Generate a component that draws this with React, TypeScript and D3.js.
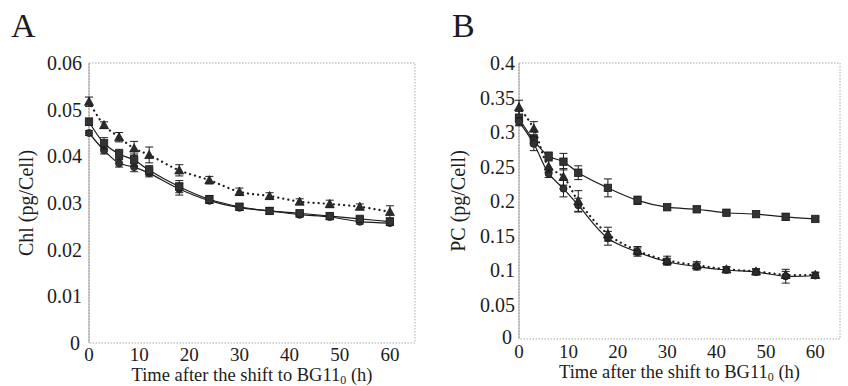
import React from "react";
import * as d3 from "d3";

const times = [0, 3, 6, 9, 12, 18, 24, 30, 36, 42, 48, 54, 60];

// Panel A: Chl (pg/Cell)
const chlTriangle = [0.0517, 0.0467, 0.0441, 0.0417, 0.0403, 0.037, 0.0349, 0.0324, 0.0315, 0.0303, 0.0298, 0.0292, 0.0281];
const chlTriangleErr = [0.001, 0.0007, 0.001, 0.0015, 0.0017, 0.0012, 0.0008, 0.0008, 0.0007, 0.0006, 0.0008, 0.0006, 0.0013];
const chlSquare = [0.0474, 0.0428, 0.0405, 0.0392, 0.037, 0.0335, 0.0308, 0.0292, 0.0283, 0.0278, 0.0272, 0.0266, 0.026];
const chlSquareErr = [0.0008, 0.0012, 0.001, 0.0013, 0.001, 0.0013, 0.0008, 0.0007, 0.0007, 0.0005, 0.0007, 0.0005, 0.0007];
const chlCircle = [0.045, 0.0413, 0.0385, 0.0377, 0.0364, 0.033, 0.0305, 0.029, 0.0283, 0.0275, 0.027, 0.026, 0.0257];
const chlCircleErr = [0.0005, 0.0008, 0.0008, 0.001, 0.0008, 0.0013, 0.0006, 0.0006, 0.0006, 0.0005, 0.0005, 0.0005, 0.0005];

// Panel B: PC (pg/Cell)
const pcSquare = [0.32, 0.288, 0.265, 0.257, 0.241, 0.219, 0.201, 0.191, 0.188, 0.183, 0.181, 0.177, 0.174];
const pcSquareErr = [0.01, 0.008, 0.006, 0.012, 0.01, 0.013, 0.006, 0.004, 0.004, 0.004, 0.004, 0.005, 0.003];
const pcCircle = [0.315, 0.283, 0.24, 0.218, 0.194, 0.146, 0.126, 0.112, 0.105, 0.1, 0.097, 0.091, 0.092];
const pcCircleErr = [0.006, 0.01, 0.006, 0.012, 0.01, 0.01, 0.006, 0.005, 0.005, 0.004, 0.004, 0.01, 0.004];
const pcTriangle = [0.336, 0.305, 0.25, 0.235, 0.2, 0.152, 0.128, 0.114, 0.107, 0.101, 0.098, 0.093, 0.093];
const pcTriangleErr = [0.01, 0.01, 0.008, 0.012, 0.015, 0.01, 0.006, 0.006, 0.005, 0.004, 0.004, 0.005, 0.004];

const xTicks = [0, 10, 20, 30, 40, 50, 60];
const chlTicks = [0, 0.01, 0.02, 0.03, 0.04, 0.05, 0.06];
const pcTicks = [0, 0.05, 0.1, 0.15, 0.2, 0.25, 0.3, 0.35, 0.4];

type Series = { values: number[]; errors: number[]; marker: "triangle" | "square" | "circle"; dotted: boolean };

const FONT = "'Liberation Serif', 'DejaVu Serif', serif";
const INK = "#1c1c1c";

function Marker({ x, y, kind }: { x: number; y: number; kind: string }) {
  if (kind === "triangle") {
    const s = 4.5;
    return <path d={`M${x},${y - s} L${x + s},${y + s * 0.8} L${x - s},${y + s * 0.8} Z`} fill="#2a2a2a" stroke={INK} strokeWidth={0.8} />;
  }
  if (kind === "square") {
    return <rect x={x - 3.7} y={y - 3.7} width={7.4} height={7.4} fill="#333" stroke={INK} strokeWidth={0.8} />;
  }
  return <circle cx={x} cy={y} r={3.6} fill="#333" stroke={INK} strokeWidth={0.8} />;
}

function Panel(props: {
  left: number; right: number; top: number; bottom: number;
  yMax: number; yTicks: number[]; yFmt: (v: number) => string;
  series: Series[]; letter: string; letterX: number; yLabel: string; yLabelX: number;
  zeroYOffset: number; zeroXGap: number; tickGap: number; tickBase: number; labelBase: number;
}) {
  const { left, right, top, bottom, yMax, yTicks, yFmt, series, letter, letterX, yLabel, yLabelX,
    zeroYOffset, zeroXGap, tickGap, tickBase, labelBase } = props;
  const x = d3.scaleLinear().domain([0, 65]).range([left, right]);
  const y = d3.scaleLinear().domain([0, yMax]).range([bottom, top]);
  const line = d3.line<number>().x((_, i) => x(times[i])).y((v) => y(v)).curve(d3.curveCatmullRom.alpha(0.5));
  const cy = (top + bottom) / 2;
  return (
    <g>
      <text x={letterX} y={37} fontFamily={FONT} fontSize={34} fill={INK}>{letter}</text>
      <rect x={left} y={top} width={right - left} height={bottom - top} fill="none" stroke="#aaa" strokeWidth={1} strokeDasharray="1.5,1.5" />
      <line x1={left} x2={left} y1={top} y2={bottom} stroke="#888" strokeWidth={1} strokeDasharray="2,1" />
      {yTicks.map((t) => (
        <text key={t} x={left - (t === 0 ? zeroXGap : tickGap)} y={y(t) + (t === 0 ? zeroYOffset : 0)} dy="0.35em" textAnchor="end" fontFamily={FONT} fontSize={20} fill={INK}>{yFmt(t)}</text>
      ))}
      {xTicks.map((t) => (
        <text key={t} x={x(t)} y={tickBase} textAnchor="middle" fontFamily={FONT} fontSize={19} fill={INK}>{t}</text>
      ))}
      <text x={(left + right) / 2} y={labelBase} textAnchor="middle" fontFamily={FONT} fontSize={18.5} fill={INK}>
        Time after the shift to BG11<tspan fontSize={12} dy={2.5}>0</tspan><tspan dy={-2.5}> (h)</tspan>
      </text>
      <text transform={`translate(${yLabelX},${cy}) rotate(-90)`} textAnchor="middle" fontFamily={FONT} fontSize={20} fill={INK}>{yLabel}</text>
      {series.map((s, si) => (
        <g key={si}>
          <path d={line(s.values) || ""} fill="none" stroke={INK} strokeWidth={s.dotted ? 2.2 : 1.2}
            strokeDasharray={s.dotted ? "0.1,5" : undefined} strokeLinecap={s.dotted ? "round" : "butt"} />
          {s.values.map((v, i) => {
            const px = x(times[i]);
            const y1 = y(v + s.errors[i]);
            const y2 = y(v - s.errors[i]);
            return (
              <g key={i}>
                <line x1={px} x2={px} y1={y1} y2={y2} stroke={INK} strokeWidth={1} />
                <line x1={px - 4} x2={px + 4} y1={y1} y2={y1} stroke={INK} strokeWidth={1} />
                <line x1={px - 4} x2={px + 4} y1={y2} y2={y2} stroke={INK} strokeWidth={1} />
                <Marker x={px} y={y(v)} kind={s.marker} />
              </g>
            );
          })}
        </g>
      ))}
    </g>
  );
}

export default function App() {
  const fmtA = (v: number) => (v === 0 ? "0" : d3.format(".2f")(v));
  const fmtB = (v: number) => (v === 0 ? "0" : String(+v.toFixed(2)));
  return (
    <svg width={848} height={386} style={{ position: "absolute", left: 0, top: 0, background: "#fff" }}>
      <rect width={848} height={386} fill="#fff" />
      <Panel left={89} right={415} top={63} bottom={343} yMax={0.06} yTicks={chlTicks} yFmt={fmtA}
        letter="A" letterX={11} yLabel="Chl (pg/Cell)" yLabelX={33} zeroYOffset={0} zeroXGap={9} tickGap={7}
        tickBase={361} labelBase={381}
        series={[
          { values: chlCircle, errors: chlCircleErr, marker: "circle", dotted: false },
          { values: chlSquare, errors: chlSquareErr, marker: "square", dotted: false },
          { values: chlTriangle, errors: chlTriangleErr, marker: "triangle", dotted: true },
        ]} />
      <Panel left={519} right={840} top={63} bottom={339} yMax={0.4} yTicks={pcTicks} yFmt={fmtB}
        letter="B" letterX={452} yLabel="PC (pg/Cell)" yLabelX={465} zeroYOffset={-2} zeroXGap={7} tickGap={4}
        tickBase={358} labelBase={378}
        series={[
          { values: pcSquare, errors: pcSquareErr, marker: "square", dotted: false },
          { values: pcCircle, errors: pcCircleErr, marker: "circle", dotted: false },
          { values: pcTriangle, errors: pcTriangleErr, marker: "triangle", dotted: true },
        ]} />
    </svg>
  );
}
